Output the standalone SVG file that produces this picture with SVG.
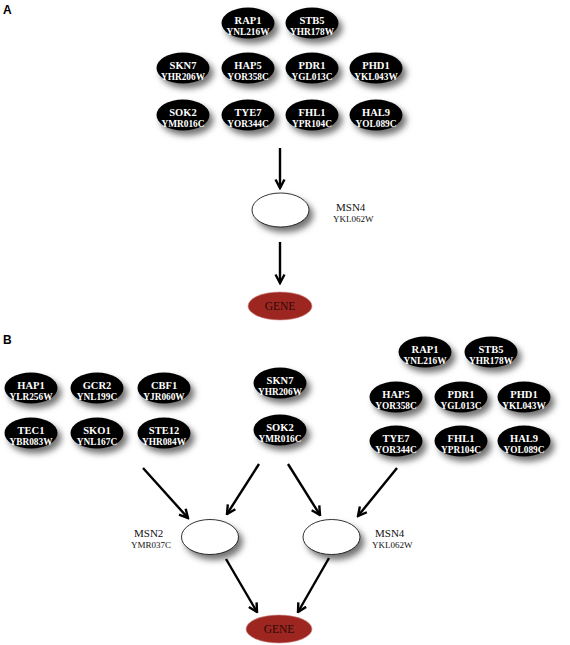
<svg xmlns="http://www.w3.org/2000/svg" width="570" height="645" viewBox="0 0 570 645">
<defs>
<filter id="sh" x="-40%" y="-40%" width="190%" height="200%">
<feDropShadow dx="4" dy="5" stdDeviation="3" flood-color="#000" flood-opacity="0.55"/>
</filter>
<marker id="arr" viewBox="0 0 12 12" refX="10.5" refY="6" markerWidth="12" markerHeight="12" orient="auto" markerUnits="userSpaceOnUse">
<path d="M2,1.5 L10.5,6 L2,10.5" fill="none" stroke="#000" stroke-width="2.4" stroke-linejoin="miter"/>
</marker>
</defs>
<style>
.tf{fill:#000;filter:url(#sh)}
.t{font-family:"Liberation Serif","Times New Roman",serif;font-weight:bold;font-size:10.5px;fill:#fff;text-anchor:middle}
.t2{font-family:"Liberation Serif","Times New Roman",serif;font-weight:bold;font-size:9.3px;fill:#fff;text-anchor:middle}
.msn{fill:#fff;stroke:#000;stroke-width:0.8;filter:url(#sh)}
.gene{fill:#9e2620;stroke:#c98a86;stroke-width:0.6}
.gt{font-family:"Liberation Serif","Times New Roman",serif;font-size:11.5px;fill:#2a0a08;text-anchor:middle}
.lb{font-family:"Liberation Serif","Times New Roman",serif;fill:#111}
.pl{font-family:"Liberation Sans",Arial,sans-serif;font-weight:bold;font-size:12px;fill:#000}
.c line{stroke:#000;stroke-width:2.4;marker-end:url(#arr)}
</style>
<rect width="570" height="645" fill="#fff"/>
<text class="pl" x="3" y="13.5">A</text>
<text class="pl" x="3" y="344">B</text>

<!-- Panel A nodes -->
<g id="a-rap1"><ellipse class="tf" cx="248" cy="23" rx="26.5" ry="15.5"/><text class="t" x="248" y="24">RAP1</text><text class="t2" x="248" y="34.5">YNL216W</text></g>
<g id="a-stb5"><ellipse class="tf" cx="312" cy="23" rx="26.5" ry="15.5"/><text class="t" x="312" y="24">STB5</text><text class="t2" x="312" y="34.5">YHR178W</text></g>
<g id="a-skn7"><ellipse class="tf" cx="183" cy="68" rx="26.5" ry="15.5"/><text class="t" x="183" y="69">SKN7</text><text class="t2" x="183" y="79.5">YHR206W</text></g>
<g id="a-hap5"><ellipse class="tf" cx="248" cy="68" rx="26.5" ry="15.5"/><text class="t" x="248" y="69">HAP5</text><text class="t2" x="248" y="79.5">YOR358C</text></g>
<g id="a-pdr1"><ellipse class="tf" cx="312" cy="68" rx="26.5" ry="15.5"/><text class="t" x="312" y="69">PDR1</text><text class="t2" x="312" y="79.5">YGL013C</text></g>
<g id="a-phd1"><ellipse class="tf" cx="376" cy="68" rx="26.5" ry="15.5"/><text class="t" x="376" y="69">PHD1</text><text class="t2" x="376" y="79.5">YKL043W</text></g>
<g id="a-sok2"><ellipse class="tf" cx="183" cy="115" rx="26.5" ry="15.5"/><text class="t" x="183" y="116">SOK2</text><text class="t2" x="183" y="126.5">YMR016C</text></g>
<g id="a-tye7"><ellipse class="tf" cx="248" cy="115" rx="26.5" ry="15.5"/><text class="t" x="248" y="116">TYE7</text><text class="t2" x="248" y="126.5">YOR344C</text></g>
<g id="a-fhl1"><ellipse class="tf" cx="312" cy="115" rx="26.5" ry="15.5"/><text class="t" x="312" y="116">FHL1</text><text class="t2" x="312" y="126.5">YPR104C</text></g>
<g id="a-hal9"><ellipse class="tf" cx="376" cy="115" rx="26.5" ry="15.5"/><text class="t" x="376" y="116">HAL9</text><text class="t2" x="376" y="126.5">YOL089C</text></g>
<g id="a-msn4"><ellipse class="msn" cx="280.5" cy="210" rx="28.5" ry="17"/><text class="lb" x="336" y="211" font-size="11">MSN4</text><text class="lb" x="333" y="222" font-size="9">YKL062W</text></g>
<g id="a-gene"><ellipse class="gene" cx="280" cy="306" rx="32" ry="14"/><text class="gt" x="280" y="310">GENE</text></g>

<!-- Panel B nodes -->
<g id="b-hap1"><ellipse class="tf" cx="31" cy="388" rx="26.5" ry="15.5"/><text class="t" x="31" y="389">HAP1</text><text class="t2" x="31" y="399.5">YLR256W</text></g>
<g id="b-gcr2"><ellipse class="tf" cx="97" cy="388" rx="26.5" ry="15.5"/><text class="t" x="97" y="389">GCR2</text><text class="t2" x="97" y="399.5">YNL199C</text></g>
<g id="b-cbf1"><ellipse class="tf" cx="164" cy="388" rx="26.5" ry="15.5"/><text class="t" x="164" y="389">CBF1</text><text class="t2" x="164" y="399.5">YJR060W</text></g>
<g id="b-tec1"><ellipse class="tf" cx="31" cy="433" rx="26.5" ry="15.5"/><text class="t" x="31" y="434">TEC1</text><text class="t2" x="31" y="444.5">YBR083W</text></g>
<g id="b-sko1"><ellipse class="tf" cx="97" cy="433" rx="26.5" ry="15.5"/><text class="t" x="97" y="434">SKO1</text><text class="t2" x="97" y="444.5">YNL167C</text></g>
<g id="b-ste12"><ellipse class="tf" cx="164" cy="433" rx="26.5" ry="15.5"/><text class="t" x="164" y="434">STE12</text><text class="t2" x="164" y="444.5">YHR084W</text></g>
<g id="b-skn7"><ellipse class="tf" cx="280" cy="383" rx="26.5" ry="15.5"/><text class="t" x="280" y="384">SKN7</text><text class="t2" x="280" y="394.5">YHR206W</text></g>
<g id="b-sok2"><ellipse class="tf" cx="280" cy="430" rx="26.5" ry="15.5"/><text class="t" x="280" y="431">SOK2</text><text class="t2" x="280" y="441.5">YMR016C</text></g>
<g id="b-rap1"><ellipse class="tf" cx="425" cy="352" rx="26.5" ry="15.5"/><text class="t" x="425" y="353">RAP1</text><text class="t2" x="425" y="363.5">YNL216W</text></g>
<g id="b-stb5"><ellipse class="tf" cx="491" cy="352" rx="26.5" ry="15.5"/><text class="t" x="491" y="353">STB5</text><text class="t2" x="491" y="363.5">YHR178W</text></g>
<g id="b-hap5"><ellipse class="tf" cx="396" cy="397" rx="26.5" ry="15.5"/><text class="t" x="396" y="398">HAP5</text><text class="t2" x="396" y="408.5">YOR358C</text></g>
<g id="b-pdr1"><ellipse class="tf" cx="461" cy="397" rx="26.5" ry="15.5"/><text class="t" x="461" y="398">PDR1</text><text class="t2" x="461" y="408.5">YGL013C</text></g>
<g id="b-phd1"><ellipse class="tf" cx="524" cy="397" rx="26.5" ry="15.5"/><text class="t" x="524" y="398">PHD1</text><text class="t2" x="524" y="408.5">YKL043W</text></g>
<g id="b-tye7"><ellipse class="tf" cx="396" cy="441" rx="26.5" ry="15.5"/><text class="t" x="396" y="442">TYE7</text><text class="t2" x="396" y="452.5">YOR344C</text></g>
<g id="b-fhl1"><ellipse class="tf" cx="461" cy="441" rx="26.5" ry="15.5"/><text class="t" x="461" y="442">FHL1</text><text class="t2" x="461" y="452.5">YPR104C</text></g>
<g id="b-hal9"><ellipse class="tf" cx="524" cy="441" rx="26.5" ry="15.5"/><text class="t" x="524" y="442">HAL9</text><text class="t2" x="524" y="452.5">YOL089C</text></g>
<g id="b-msn2"><ellipse class="msn" cx="210" cy="537" rx="28.5" ry="17.5"/><text class="lb" x="134" y="537" font-size="11">MSN2</text><text class="lb" x="131" y="548" font-size="9">YMR037C</text></g>
<g id="b-msn4"><ellipse class="msn" cx="331.5" cy="537" rx="28.5" ry="17.5"/><text class="lb" x="375" y="537" font-size="11">MSN4</text><text class="lb" x="372" y="548" font-size="9">YKL062W</text></g>
<g id="b-gene"><ellipse class="gene" cx="279" cy="629" rx="33" ry="14"/><text class="gt" x="279" y="633">GENE</text></g>

<!-- Connectors -->
<g id="connectors" class="c">
<line x1="280" y1="148" x2="280" y2="188"/>
<line x1="280" y1="242" x2="280" y2="283"/>
<line x1="143" y1="468" x2="188" y2="518"/>
<line x1="259" y1="464" x2="227" y2="514"/>
<line x1="288" y1="464" x2="320" y2="515"/>
<line x1="397" y1="468" x2="358" y2="516"/>
<line x1="226" y1="559" x2="257" y2="612"/>
<line x1="329" y1="558" x2="298" y2="612"/>
</g>
</svg>
